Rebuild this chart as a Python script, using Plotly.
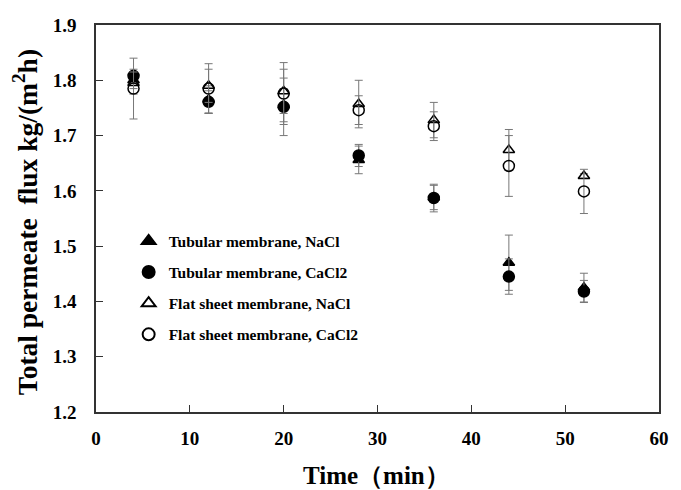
import plotly.graph_objects as go

time_min = [4, 12, 20, 28, 36, 44, 52]

tub_nacl = [1.800, 1.765, 1.755, 1.656, 1.588, 1.470, 1.425]
tub_nacl_err = [0.015, 0.025, 0.030, 0.025, 0.022, 0.050, 0.026]

tub_cacl2 = [1.808, 1.761, 1.752, 1.664, 1.587, 1.445, 1.418]
tub_cacl2_err = [0.012, 0.020, 0.052, 0.020, 0.025, 0.032, 0.020]

flat_nacl = [1.795, 1.790, 1.780, 1.757, 1.728, 1.674, 1.627]
flat_nacl_err = [0.020, 0.030, 0.040, 0.043, 0.032, 0.037, 0.004]

flat_cacl2 = [1.785, 1.785, 1.776, 1.746, 1.717, 1.645, 1.599]
flat_cacl2_err = [0.055, 0.045, 0.056, 0.026, 0.026, 0.055, 0.040]

names = ["Tubular membrane, NaCl", "Tubular membrane, CaCl2",
         "Flat sheet membrane, NaCl", "Flat sheet membrane, CaCl2"]

x_ticks = [0, 10, 20, 30, 40, 50, 60]
y_ticks = [1.2, 1.3, 1.4, 1.5, 1.6, 1.7, 1.8, 1.9]
x_title = "Time（min）"
y_title = "Total permeate  flux kg/(m<sup>2</sup>h)"

FONT = "Liberation Serif"
fig = go.Figure()

series = [
    (tub_nacl, tub_nacl_err, "triangle-up", 10),
    (tub_cacl2, tub_cacl2_err, "circle", 11),
    (flat_nacl, flat_nacl_err, "triangle-up-open", 10),
    (flat_cacl2, flat_cacl2_err, "circle-open", 11),
]
for i, (vals, errs, sym, sz) in enumerate(series):
    fig.add_trace(go.Scatter(
        x=time_min, y=vals, mode="markers", name=names[i],
        legendgroup=f"g{i}",
        marker=dict(symbol=sym, size=sz, color="black",
                    line=dict(color="black", width=1.5)),
        error_y=dict(type="data", array=errs, visible=True,
                     color="#777777", thickness=1, width=4),
    ))

fig.update_layout(
    width=681, height=490,
    margin=dict(l=96, r=12, t=25, b=78),
    paper_bgcolor="white", plot_bgcolor="white",
    font=dict(family=FONT, color="black"),
    legend=dict(x=0.058, y=0.485, xanchor="left", yanchor="top",
                bgcolor="rgba(0,0,0,0)",
                font=dict(family=FONT, size=15.5, color="black", weight="bold"),
                tracegroupgap=8, itemwidth=30, itemsizing="constant"),
    xaxis=dict(range=[0, 60], tickvals=x_ticks,
               ticktext=[f"<b>{v}</b>" for v in x_ticks],
               showgrid=False, zeroline=False,
               showline=True, linecolor="#333333", linewidth=1.5, mirror=True,
               ticks="inside", ticklen=7, tickcolor="#333333",
               tickfont=dict(family=FONT, size=19, weight=700),
               ticklabelstandoff=8),
    yaxis=dict(range=[1.2, 1.9], tickvals=y_ticks,
               ticktext=[f"<b>{v:.1f}</b>" for v in y_ticks],
               showgrid=False,
               zeroline=False, showline=True, linecolor="#333333", linewidth=1.5,
               mirror=True, ticks="inside", ticklen=7, tickcolor="#333333",
               tickfont=dict(family=FONT, size=19, weight=700),
               ticklabelstandoff=14),
    annotations=[
        dict(text=f"<b>{x_title}</b>", xref="paper", yref="paper",
             x=0.499, y=-0.163, xanchor="center", yanchor="middle",
             showarrow=False, font=dict(family=FONT, size=25, color="black")),
        dict(text=f"<b>{y_title}</b>", xref="paper", yref="paper",
             x=-0.124, y=0.491, xanchor="center", yanchor="middle",
             textangle=-90, showarrow=False,
             font=dict(family=FONT, size=27.5, color="black")),
    ],
)

fig.write_html("out.html")
